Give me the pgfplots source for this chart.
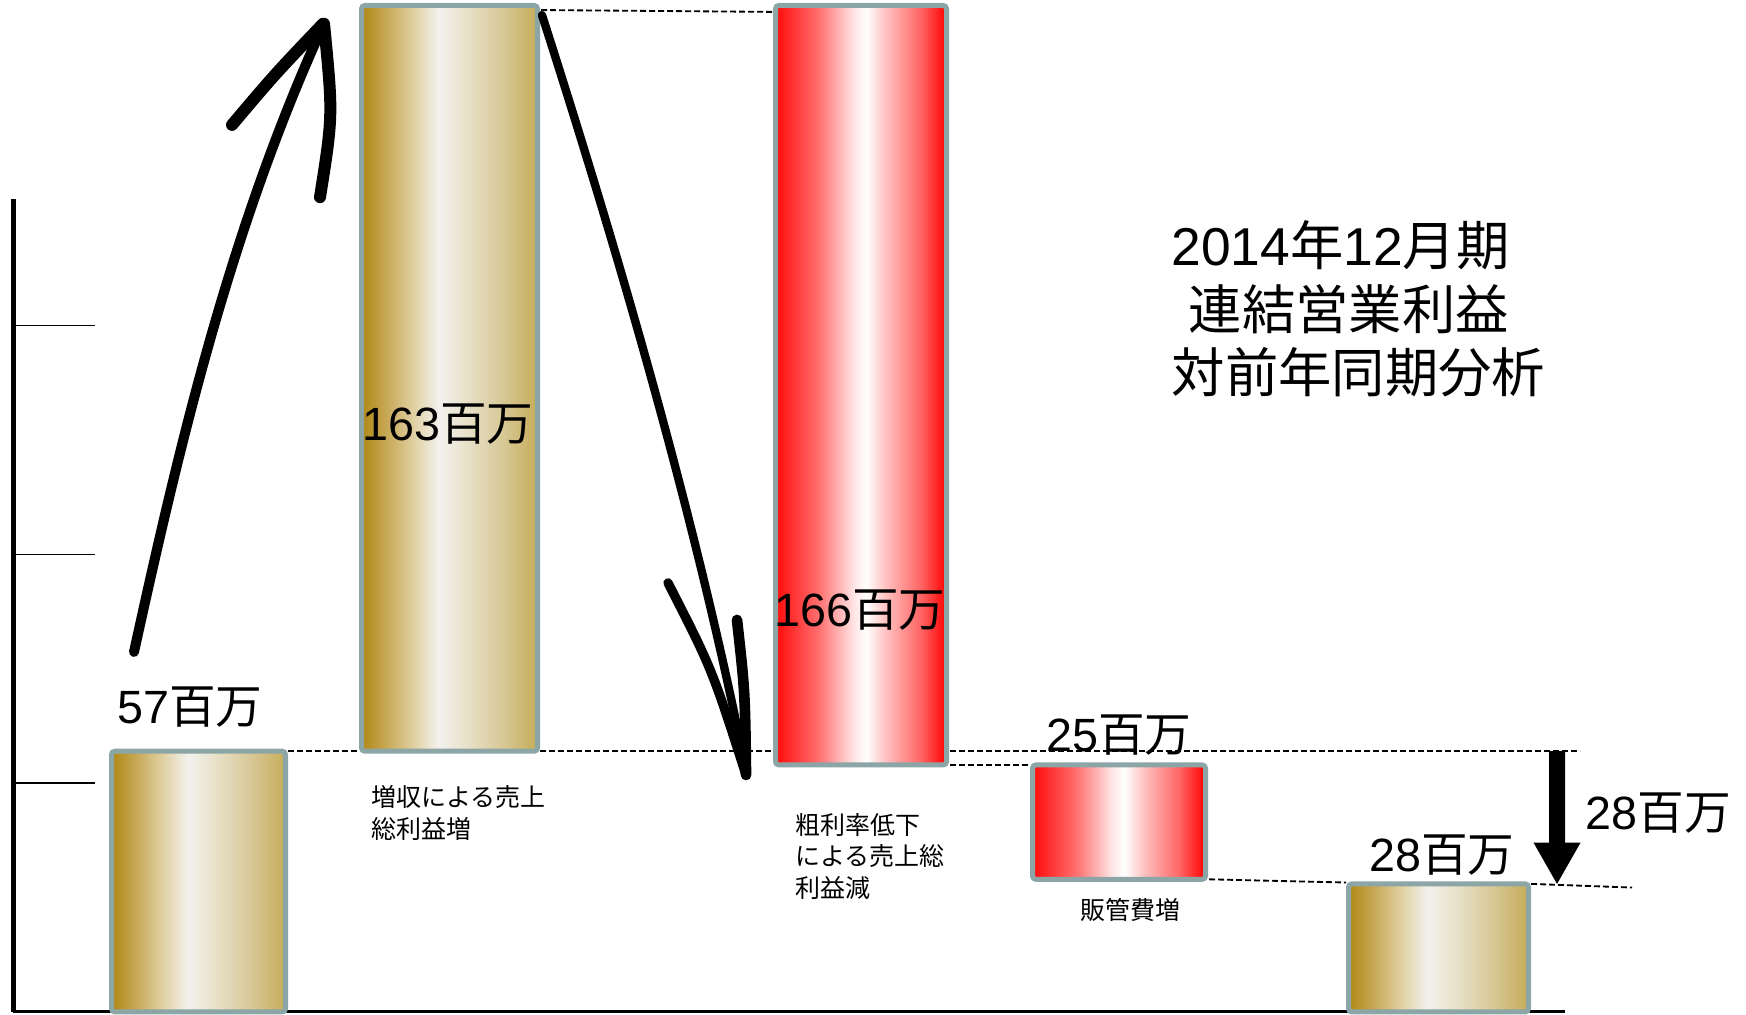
\documentclass[border=0pt]{standalone}
\usepackage{pgfplots}
\pgfplotsset{compat=1.18}
\usepackage{fontspec}
\setmainfont{Liberation Sans}
\newfontfamily\cjk{Noto Sans CJK JP}

% bar colours
\definecolor{barborder}{RGB}{140,165,167}
\definecolor{g0}{RGB}{176,136,20}
\definecolor{g1}{RGB}{200,170,90}
\definecolor{g2}{RGB}{225,210,165}
\definecolor{g3}{RGB}{242,241,238}
\definecolor{g4}{RGB}{232,225,200}
\definecolor{g5}{RGB}{215,200,150}
\definecolor{g6}{RGB}{198,172,90}
\definecolor{r0}{RGB}{255,10,10}
\definecolor{r1}{RGB}{255,110,110}
\definecolor{r2}{RGB}{255,225,225}
\definecolor{r3}{RGB}{255,255,255}
\definecolor{r4}{RGB}{255,190,190}
\definecolor{r5}{RGB}{255,100,100}
\definecolor{r6}{RGB}{255,0,0}

\pgfdeclarehorizontalshading{goldbar}{100bp}{color(0bp)=(g0); color(25bp)=(g0);
  color(32.5bp)=(g1); color(40bp)=(g2); color(47bp)=(g3); color(55bp)=(g4);
  color(65bp)=(g5); color(75bp)=(g6); color(100bp)=(g6)}
\pgfdeclarehorizontalshading{redbar}{100bp}{color(0bp)=(r0); color(25bp)=(r0);
  color(37.5bp)=(r1); color(47.5bp)=(r2); color(51.5bp)=(r3); color(57.5bp)=(r4);
  color(67.5bp)=(r5); color(75bp)=(r6); color(100bp)=(r6)}

\tikzset{
  conn/.style={black, line width=0.55pt, dash pattern=on 1.8pt off 0.9pt},
  hand/.style={black, line cap=round, line join=round},
  val/.style={font=\fontsize{14}{16}\selectfont, inner sep=0pt},
  note/.style={font=\fontsize{7.5}{9.4}\selectfont, align=left, inner sep=0pt},
  ttl/.style={font=\fontsize{16}{19}\selectfont, inner sep=0pt, anchor=west},
}
\pgfplotsset{
  goldbar/.style={draw=barborder, line width=1.5pt, shade, shading=goldbar, rounded corners=1pt, mark=none},
  redbar/.style={draw=barborder, line width=1.5pt, shade, shading=redbar, rounded corners=1pt, mark=none},
}

\begin{document}
\begin{tikzpicture}
\begin{axis}[
    x=0.3pt, y=1.3725pt,
    xmin=13, xmax=1565, ymin=0, ymax=177.8,
    axis x line=bottom, axis y line=left,
    axis line style={-},
    x axis line style={line width=0.9pt},
    y axis line style={line width=1.5pt},
    xtick=\empty,
    ytick={50,100,150}, yticklabels={},
    yticklabel style={overlay},
    ytick style={line width=0.45pt, black},
    tick align=inside, major tick length=24.5pt,
    clip=false,
  ]
  % invisible frame fixing the page size
  \path (axis cs:0,-0.44) rectangle (axis cs:1746,221.2);

  % waterfall: 57 -> +163 -> -166 -> -25 -> 28 (million yen)
  \addplot[goldbar] coordinates {(111.5,0) (285.5,0) (285.5,57) (111.5,57)} -- cycle;
  \addplot[goldbar] coordinates {(361.5,57) (537.5,57) (537.5,220) (361.5,220)} -- cycle;
  \addplot[redbar] coordinates {(775.5,54) (946.5,54) (946.5,220) (775.5,220)} -- cycle;
  \addplot[redbar] coordinates {(1032.5,29) (1205.5,29) (1205.5,54) (1032.5,54)} -- cycle;
  \addplot[goldbar] coordinates {(1348.5,0) (1528.5,0) (1528.5,28) (1348.5,28)} -- cycle;

  % connectors
  \draw[conn] (axis cs:288,57) -- (axis cs:359,57);
  \draw[conn] (axis cs:540,57) -- (axis cs:773,57);
  \draw[conn] (axis cs:541,219) -- (axis cs:772,218.6);
  \draw[conn] (axis cs:950,57) -- (axis cs:1580,57);
  \draw[conn] (axis cs:950,54) -- (axis cs:1030,54);
  \draw[conn] (axis cs:1209,29) -- (axis cs:1346,28.3);
  \draw[conn] (axis cs:1531,28) -- (axis cs:1632,27.2);

  % hand drawn arrows
  \draw[hand, line width=3pt] (axis cs:134,78.7) .. controls (axis cs:178,122.4) and (axis cs:228,169.8) .. (axis cs:322,215.1);
  \draw[hand, line width=3.6pt] (axis cs:232,193.9) .. controls (axis cs:275,205) .. (axis cs:323,216);
  \draw[hand, line width=3.6pt] (axis cs:324,216) .. controls (axis cs:333,196) .. (axis cs:320,178.1);
  \draw[hand, line width=2.5pt] (axis cs:542,217.9) .. controls (axis cs:622,163.3) and (axis cs:696,107.5) .. (axis cs:746,52.9);
  \draw[hand, line width=2.8pt] (axis cs:668,93.8) .. controls (axis cs:712,75) .. (axis cs:746,51.8);
  \draw[hand, line width=3.2pt] (axis cs:737,85.7) .. controls (axis cs:745,70) .. (axis cs:746,51.8);

  % overall change arrow
  \fill[black] (axis cs:1549,57) -- (axis cs:1565,57) -- (axis cs:1565,37) -- (axis cs:1580.5,37)
     -- (axis cs:1557,28) -- (axis cs:1533.5,37) -- (axis cs:1549,37) -- cycle;

  % value labels
  \node[val] at (axis cs:190,66.7) {57{\cjk 百万}};
  \node[val] at (axis cs:448,128.5) {163{\cjk 百万}};
  \node[val] at (axis cs:860,87.9) {166{\cjk 百万}};
  \node[val] at (axis cs:1119,60.5) {25{\cjk 百万}};
  \node[val] at (axis cs:1442,34.3) {28{\cjk 百万}};
  \node[val, anchor=west] at (axis cs:1585,43.5) {28{\cjk 百万}};

  % category notes
  \node[note, anchor=west] at (axis cs:371,43.5) {\cjk 増収による売上\\\cjk 総利益増};
  \node[note, anchor=west] at (axis cs:795,34) {\cjk 粗利率低下\\\cjk による売上総\\\cjk 利益減};
  \node[note] at (axis cs:1130,22.3) {\cjk 販管費増};

  % title
  \node[ttl] at (axis cs:1171,167.65) {2014{\cjk 年}12{\cjk 月期}};
  \node[ttl] at (axis cs:1188,153.66) {\cjk 連結営業利益};
  \node[ttl] at (axis cs:1171,139.9) {\cjk 対前年同期分析};
\end{axis}
\end{tikzpicture}
\end{document}
